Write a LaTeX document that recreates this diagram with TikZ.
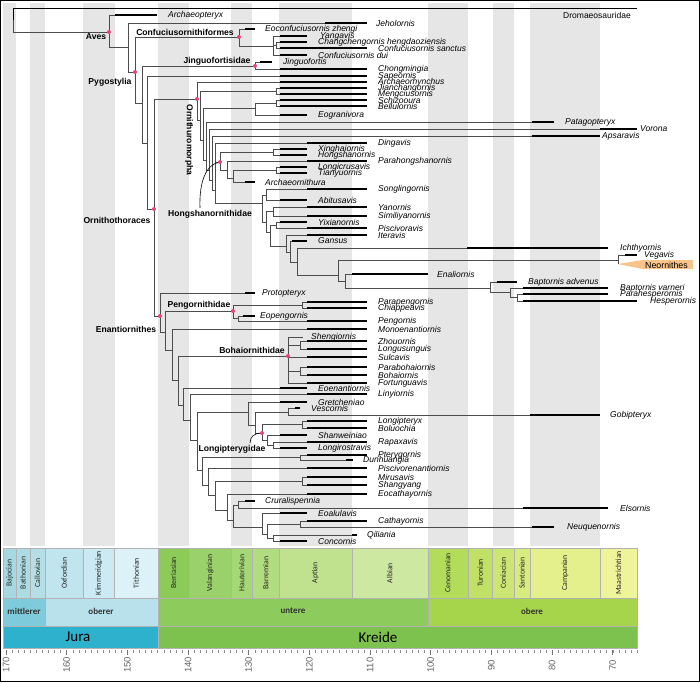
\documentclass[tikz,border=0pt]{standalone}
\usepackage{fontspec}
\setmainfont{Liberation Sans}
\newfontfamily\calfont{Carlito}
\definecolor{stripeg}{HTML}{E6E6E6}
\definecolor{pinkc}{HTML}{E8457A}
\definecolor{orangec}{HTML}{F8C48A}
\definecolor{sBaj}{HTML}{A6D8E1}
\definecolor{sBat}{HTML}{ADDBE3}
\definecolor{sCal}{HTML}{B5DFE6}
\definecolor{sOxf}{HTML}{C1E5EF}
\definecolor{sKim}{HTML}{CCEAF3}
\definecolor{sTit}{HTML}{DCF2F8}
\definecolor{sBer}{HTML}{8CCB57}
\definecolor{sVal}{HTML}{9AD16A}
\definecolor{sHau}{HTML}{A6D776}
\definecolor{sBar}{HTML}{B2DC80}
\definecolor{sApt}{HTML}{C0E28F}
\definecolor{sAlb}{HTML}{CDE8A0}
\definecolor{sCen}{HTML}{B3DC5A}
\definecolor{sTur}{HTML}{C0E166}
\definecolor{sCon}{HTML}{CCE674}
\definecolor{sSan}{HTML}{D7EB7F}
\definecolor{sCam}{HTML}{E3F08B}
\definecolor{sMaa}{HTML}{EEF49A}
\definecolor{eMid}{HTML}{7ECBDB}
\definecolor{eUpJ}{HTML}{B8E1EC}
\definecolor{eLoK}{HTML}{8DCB5C}
\definecolor{eUpK}{HTML}{A6D54B}
\definecolor{pJur}{HTML}{2DB1CD}
\definecolor{pKre}{HTML}{7DC24E}
\tikzset{
  br/.style={draw=black!70, line width=0.6pt},
  bar/.style={draw=black, line width=2.4pt},
  lab/.style={font=\fontsize{8.5}{9}\selectfont\itshape, anchor=west, inner sep=0pt},
  cla/.style={font=\fontsize{8.6}{9}\selectfont\bfseries, inner sep=0pt},
  pdot/.style={circle, fill=pinkc, inner sep=0pt, minimum size=4pt},
  tsbox/.style={draw=black!30, line width=0.4pt},
  stl/.style={font=\calfont\fontsize{7.8}{8}\selectfont, rotate=90, inner sep=0pt, text=black!85},
  epl/.style={font=\calfont\fontsize{9}{10}\selectfont\bfseries, inner sep=0pt, text=black!80},
  pel/.style={font=\calfont\fontsize{15}{16}\selectfont, inner sep=0pt},
  num/.style={font=\fontsize{9.5}{10}\selectfont, rotate=90, inner sep=0pt, text=black!60},
}
\newcommand\lf[6]{%
  \coordinate (#1) at (#3,#2);
  \draw[bar] (#3,#2) -- (#4,#2);
  \node[lab] (#1-t) at (#5,#2) {#6};}
\begin{document}
\begin{tikzpicture}[x=1pt,y=-1pt]
\useasboundingbox (0,0) rectangle (700,682);
\fill[white] (0,0) rectangle (700,682);
% stripes
\foreach \a/\b in {3/16.3, 29.7/45.4, 83.1/114.6, 157.7/189.2, 231.1/252.3, 279/351.8, 427.7/467.7, 492.6/513.8, 530.2/600}
  \fill[stripeg] (\a,3) rectangle (\b,546);
% stages
\foreach \a/\b/\cc/\n in {3/16.3/sBaj/Bajocian, 16.3/29.7/sBat/Bathonian, 29.7/45.4/sCal/Callovian, 45.4/83.1/sOxf/Oxfordian, 83.1/114.6/sKim/Kimmeridgian, 114.6/157.7/sTit/Tithonian, 157.7/189.2/sBer/Berriasian, 189.2/231.1/sVal/Valanginian, 231.1/252.3/sHau/Hauterivian, 252.3/279/sBar/Barremian, 279/351.8/sApt/Aptian, 351.8/427.7/sAlb/Albian, 427.7/467.7/sCen/Cenomanian, 467.7/492.6/sTur/Turonian, 492.6/513.8/sCon/Coniacian, 513.8/530.2/sSan/Santonian, 530.2/600/sCam/Campanian, 600/637/sMaa/Maastrichtian}
{
  \fill[\cc, tsbox] (\a,548) rectangle (\b,598);
  \node[stl] (st-\n) at ({(\a+\b)/2},573) {\n};
}
% epochs
\fill[eMid, tsbox] (3,598) rectangle (45.4,626);
\fill[eUpJ, tsbox] (45.4,598) rectangle (157.7,626);
\fill[eLoK, tsbox] (157.7,598) rectangle (427.7,626);
\fill[eUpK, tsbox] (427.7,598) rectangle (637,626);
\node[epl] (ep1) at (24,611) {mittlerer};
\node[epl] (ep2) at (101,611) {oberer};
\node[epl] (ep3) at (293,611) {untere};
\node[epl] (ep4) at (532,611) {obere};
% periods
\fill[pJur, tsbox] (3,626) rectangle (157.7,648);
\fill[pKre, tsbox] (157.7,626) rectangle (637,648);
\node[pel] (jura) at (78,637) {Jura};
\node[pel] (kreide) at (378,637) {Kreide};
% ticks
\foreach \i in {0,...,104} \draw[black!45, line width=0.4pt] ({6+\i*6.067},650) -- ++(0,3);
\foreach \v in {170,160,...,70} {
  \draw[black!55, line width=0.5pt] ({6+(170-\v)*6.067},650) -- ++(0,5);
  \node[num] (n\v) at ({6+(170-\v)*6.067},665) {\v};
}
% ===== leaves =====
\lf{arx}{15}{115}{157}{168}{Archaeopteryx}
\lf{jeh}{23}{325}{367}{376}{Jeholornis}
\lf{eoc}{29}{245}{255}{265}{Eoconfuciusornis zhengi}
\lf{yan}{36}{280}{307}{320}{Yangavis}
\lf{cha}{42}{280}{307}{318}{Changchengornis hengdaoziensis}
\lf{csa}{48}{280}{367}{378}{Confuciusornis sanctus}
\lf{cdu}{55}{280}{307}{318}{Confuciusornis dui}
\lf{jin}{62}{260}{272}{283}{Jinguofortis}
\lf{cho}{69}{280}{367}{378}{Chongmingia}
\lf{sap}{76}{280}{367}{378}{Sapeornis}
\lf{arh}{82}{280}{367}{378}{Archaeorhynchus}
\lf{jia}{88}{280}{367}{378}{Jianchangornis}
\lf{men}{94}{280}{367}{378}{Mengciusornis}
\lf{sch}{100}{280}{367}{378}{Schizooura}
\lf{bel}{106}{280}{367}{378}{Bellulornis}
\lf{eog}{115}{280}{307}{318}{Eogranivora}
\lf{pat}{122}{532}{554}{565}{Patagopteryx}
\lf{vor}{129}{600}{637}{640}{Vorona}
\lf{aps}{136}{532}{600}{602}{Apsaravis}
\lf{din}{143}{307}{367}{378}{Dingavis}
\lf{xin}{149}{280}{307}{318}{Xinghaiornis}
\lf{hon}{155}{280}{307}{318}{Hongshanornis}
\lf{phs}{161}{307}{367}{378}{Parahongshanornis}
\lf{lcr}{167}{280}{307}{318}{Longicrusavis}
\lf{tia}{173}{280}{307}{318}{Tianyuornis}
\lf{ath}{182}{245}{255}{265}{Archaeornithura}
\lf{son}{189}{307}{367}{378}{Songlingornis}
\lf{abi}{200}{280}{307}{318}{Abitusavis}
\lf{yno}{207}{307}{367}{378}{Yanornis}
\lf{sim}{216}{307}{367}{378}{Similiyanornis}
\lf{yix}{222}{280}{307}{318}{Yixianornis}
\lf{pis}{228}{307}{367}{378}{Piscivoravis}
\lf{ite}{235}{307}{367}{378}{Iteravis}
\lf{gan}{241}{292}{307}{318}{Gansus}
\lf{ich}{248}{467}{608}{620}{Ichthyornis}
\lf{veg}{255}{625}{637}{644}{Vegavis}
\lf{ena}{274}{352}{428}{437}{Enaliornis}
\lf{bad}{282}{497}{517}{528}{Baptornis advenus}
\lf{bva}{288}{523}{608}{620}{Baptornis varneri}
\lf{phe}{294}{523}{608}{620}{Parahesperornis}
\lf{hes}{301}{523}{637}{650}{Hesperornis}
\lf{pro}{293}{245}{255}{262}{Protopteryx}
\lf{ppg}{302}{307}{367}{378}{Parapengornis}
\lf{chi}{308}{307}{367}{378}{Chiappeavis}
\lf{eop}{316}{243}{255}{260}{Eopengornis}
\lf{pen}{321}{307}{367}{378}{Pengornis}
\lf{mon}{329}{307}{367}{378}{Monoenantiornis}
\lf{she}{337}{303}{303}{311}{Shengiornis}
\lf{zho}{341}{307}{367}{378}{Zhouornis}
\lf{lon}{349}{307}{367}{378}{Longusunguis}
\lf{sul}{357}{307}{367}{378}{Sulcavis}
\lf{pbo}{367}{307}{367}{378}{Parabohaiornis}
\lf{boh}{375}{307}{367}{378}{Bohaiornis}
\lf{fort}{383}{307}{367}{378}{Fortunguavis}
\lf{eoe}{388}{280}{307}{318}{Eoenantiornis}
\lf{lin}{394}{307}{367}{378}{Linyiornis}
\lf{gre}{402}{280}{307}{318}{Gretcheniao}
\lf{ves}{408}{295}{300}{311}{Vescornis}
\lf{gob}{415}{530}{600}{610}{Gobipteryx}
\lf{lpt}{421}{307}{367}{378}{Longipteryx}
\lf{bol}{428}{307}{367}{378}{Boluochia}
\lf{sha}{435}{280}{307}{318}{Shanweiniao}
\lf{rap}{442}{307}{367}{378}{Rapaxavis}
\lf{lro}{448}{280}{307}{318}{Longirostravis}
\lf{pte}{455}{307}{367}{378}{Pterygornis}
\lf{dun}{460}{346}{353}{363}{Dunhuangia}
\lf{pse}{468}{307}{367}{378}{Piscivorenantiornis}
\lf{mir}{477}{307}{367}{378}{Mirusavis}
\lf{shy}{485}{307}{367}{378}{Shangyang}
\lf{eca}{494}{307}{367}{378}{Eocathayornis}
\lf{cru}{501}{245}{255}{265}{Cruralispennia}
\lf{els}{508}{523}{608}{620}{Elsornis}
\lf{eoa}{513}{280}{307}{318}{Eoalulavis}
\lf{cat}{521}{307}{367}{378}{Cathayornis}
\lf{neu}{527}{532}{554}{567}{Neuquenornis}
\lf{qil}{535}{352}{357}{367}{Qiliania}
\lf{con}{541}{280}{307}{318}{Concornis}
% Neornithes
\coordinate (neo) at (618,264);
\fill[orangec] (618,264) -- (643,260) -- (693,260) -- (693,269) -- (643,269) -- cycle;
\node[font=\fontsize{8.8}{9}\selectfont, anchor=west, inner sep=0pt] (neo-t) at (645,265) {Neornithes};
% ===== internal nodes =====
\coordinate (R) at (13,20);
\coordinate (dromE) at (637,9);
\coordinate (Aves) at (109,32);
\coordinate (J) at (128,47);
\coordinate (Pyg) at (135,72);
\coordinate (Conf) at (239,37);
\coordinate (C2) at (273,46);
\coordinate (C3) at (276,45);
\coordinate (P2) at (142,103);
\coordinate (Jing) at (255,66);
\coordinate (P3) at (147,143);
\coordinate (Orn) at (154,209);
\coordinate (O) at (197,99);
\coordinate (A) at (200,120);
\coordinate (JM) at (276,91);
\coordinate (B) at (203,140);
\coordinate (SBE) at (255,108);
\coordinate (SB) at (276,103);
\coordinate (C) at (206,160);
\coordinate (D) at (209,170);
\coordinate (E) at (212,180);
\coordinate (F) at (215,190);
\coordinate (H) at (220,162);
\coordinate (XH) at (273,152);
\coordinate (H2) at (227,170);
\coordinate (H3) at (233,178);
\coordinate (LT) at (276,170);
\coordinate (G) at (262,203);
\coordinate (Y) at (266,195);
\coordinate (G2) at (266,222);
\coordinate (Y2) at (273,211);
\coordinate (G2b) at (270,232);
\coordinate (Y3) at (276,225);
\coordinate (G3) at (286,246);
\coordinate (K) at (290,252);
\coordinate (K2) at (297,262);
\coordinate (K3) at (338,275);
\coordinate (NV) at (618,260);
\coordinate (Hesp) at (345,281);
\coordinate (HH) at (490,288);
\coordinate (HH2) at (510,292);
\coordinate (HH3) at (517,297);
\coordinate (Enan) at (160,316);
\coordinate (E1) at (165,332);
\coordinate (Peng) at (233,311);
\coordinate (PC) at (302,305);
\coordinate (EP) at (238,318);
\coordinate (E2) at (172,350);
\coordinate (E3) at (178,380);
\coordinate (Bo) at (288,356);
\coordinate (B2) at (300,345);
\coordinate (B3) at (300,371);
\coordinate (E4) at (183,405);
\coordinate (E5) at (190,420);
\coordinate (E6) at (197,440);
\coordinate (GV) at (248,412);
\coordinate (GV2) at (255,425);
\coordinate (VG) at (288,412);
\coordinate (L) at (262,433);
\coordinate (LB) at (302,424);
\coordinate (L2) at (267,440);
\coordinate (RL) at (273,445);
\coordinate (E7) at (202,470);
\coordinate (PD) at (300,457);
\coordinate (E8) at (208,485);
\coordinate (E9) at (215,495);
\coordinate (MS) at (302,481);
\coordinate (E10) at (227,510);
\coordinate (E11) at (233,520);
\coordinate (CE) at (238,505);
\coordinate (E12) at (262,527);
\coordinate (E13) at (267,534);
\coordinate (CN) at (300,524);
\coordinate (QC) at (273,538);
% ===== branches =====
\draw[black, line width=1pt] (R) |- (dromE);
\foreach \pa/\ch in {R/Aves, Aves/arx, Aves/J, J/jeh, J/Pyg, Pyg/Conf, Pyg/P2, Conf/eoc, Conf/C2, C2/yan, C2/C3, C2/cdu, C3/cha, C3/csa, P2/Jing, P2/P3, Jing/jin, Jing/cho, P3/sap, P3/Orn, Orn/O, Orn/Enan, O/arh, O/A, A/JM, A/B, JM/jia, JM/men, B/SBE, B/C, SBE/SB, SBE/eog, SB/sch, SB/bel, C/pat, C/D, D/vor, D/E, E/aps, E/F, F/din, F/H, F/G, H/XH, H/H2, XH/xin, XH/hon, H2/phs, H2/H3, H3/LT, H3/ath, LT/lcr, LT/tia, G/Y, G/G2, Y/son, Y/abi, G2/Y2, G2/G2b, Y2/yno, Y2/sim, G2b/Y3, G2b/G3, Y3/yix, Y3/pis, G3/ite, G3/K, K/gan, K/K2, K2/ich, K2/K3, K3/NV, K3/Hesp, NV/veg, NV/neo, Hesp/ena, Hesp/HH, HH/bad, HH/HH2, HH2/bva, HH2/HH3, HH3/phe, HH3/hes}
  \draw[br] (\pa) |- (\ch);
\foreach \pa/\ch in {Enan/pro, Enan/E1, E1/Peng, E1/E2, Peng/PC, Peng/EP, PC/ppg, PC/chi, EP/eop, EP/pen, E2/mon, E2/E3, E3/Bo, E3/E4, Bo/she, Bo/B2, Bo/sul, Bo/B3, Bo/fort, B2/zho, B2/lon, B3/pbo, B3/boh, E4/eoe, E4/E5, E5/lin, E5/E6, E6/GV, E6/E7, GV/gre, GV/GV2, GV2/VG, GV2/L, VG/ves, VG/gob, L/LB, L/L2, LB/lpt, LB/bol, L2/sha, L2/RL, RL/rap, RL/lro, E7/PD, E7/E8, PD/pte, PD/dun, E8/pse, E8/E9, E9/MS, E9/E10, MS/mir, MS/shy, E10/eca, E10/E11, E11/CE, E11/E12, CE/cru, CE/els, E12/eoa, E12/E13, E13/CN, E13/QC, CN/cat, CN/neu, QC/qil, QC/con}
  \draw[br] (\pa) |- (\ch);
% clade labels
\node[font=\fontsize{8.5}{9}\selectfont, inner sep=0pt] (drom-t) at (597,15.5) {Dromaeosauridae};
\node[cla] (l-aves) at (96,37) {Aves};
\node[cla] (l-conf) at (185,32) {Confuciusornithiformes};
\node[cla] (l-pyg) at (110,82) {Pygostylia};
\node[cla] (l-jing) at (217,61) {Jinguofortisidae};
\node[cla, rotate=-90] (l-ornu) at (189,140) {Ornithuromorpha};
\node[cla] (l-orn) at (117,220) {Ornithothoraces};
\node[cla] (l-hong) at (210,214) {Hongshanornithidae};
\node[cla] (l-enan) at (126,329) {Enantiornithes};
\node[cla] (l-peng) at (199,305) {Pengornithidae};
\node[cla] (l-boh) at (252,350) {Bohaiornithidae};
\node[cla] (l-long) at (232,449) {Longipterygidae};
\draw[br, black] (200,208) .. controls (199,182) and (206,164) .. (H);
\draw[br, black] (250,443) .. controls (250,437) and (254,433) .. (L);
% dots
\foreach \n in {Aves, Conf, Pyg, Jing, O, H, Orn, Enan, Peng, Bo, L}
  \node[pdot] (dot-\n) at (\n) {};
% frame
\draw[black, line width=1.2pt] (0.6,0.6) rectangle (699.4,681.4);
\end{tikzpicture}
\end{document}
